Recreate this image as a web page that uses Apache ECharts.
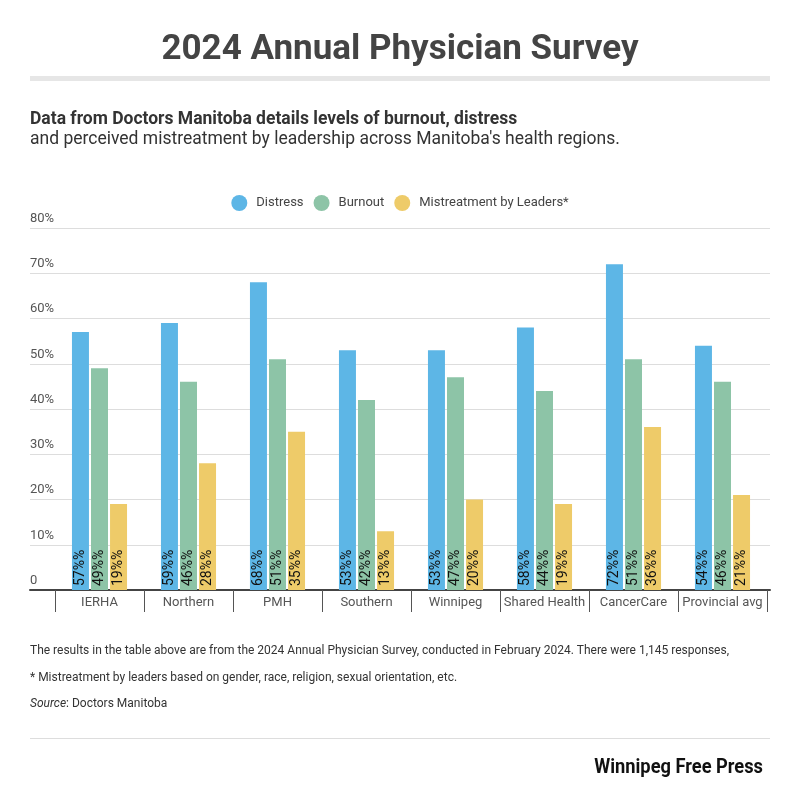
<!DOCTYPE html>
<html>
<head>
<meta charset="utf-8">
<title>2024 Annual Physician Survey</title>
<script src="https://cdn.jsdelivr.net/npm/echarts@6/dist/echarts.min.js"></script>
<style>
  html, body { margin: 0; padding: 0; background: #fff; }
  #chart { width: 800px; height: 801px; }
</style>
</head>
<body>
<div id="chart"></div>
<script>
// regions (x axis)
let regions = ['IERHA', 'Northern', 'PMH', 'Southern', 'Winnipeg', 'Shared Health', 'CancerCare', 'Provincial avg'];
// percent values per series
let distress = [57, 59, 68, 53, 53, 58, 72, 54];
let burnout = [49, 46, 51, 42, 47, 44, 51, 46];
let mistreatment = [19, 28, 35, 13, 20, 19, 36, 21];
let seriesNames = ['Distress', 'Burnout', 'Mistreatment by Leaders*'];
let colors = ['#5db6e6', '#8dc4a7', '#eecb69'];

let font = 'Roboto, "Noto Sans", sans-serif';

let myChart = echarts.init(document.getElementById('chart'));

// label inside the bar, rotated, reading bottom to top
function barLabel() {
  return {
    show: true,
    position: 'insideBottom',
    rotate: 90,
    align: 'left',
    verticalAlign: 'middle',
    distance: 4,
    color: '#111',
    fontFamily: font,
    fontSize: 14,
    formatter: function (p) { return p.value + '%%'; }
  };
}

function makeSeries(name, data, i) {
  return {
    name: name,
    type: 'bar',
    xAxisIndex: 1,
    yAxisIndex: 1,
    data: data,
    barWidth: 17,
    barGap: '12%',
    itemStyle: { color: colors[i] },
    label: barLabel(),
    emphasis: { disabled: true }
  };
}

let option = {
  animation: false,
  backgroundColor: '#fff',
  textStyle: { fontFamily: font },
  color: colors,
  title: [
    {
      text: '2024 Annual Physician Survey',
      left: 'center', top: 28,
      textStyle: { fontSize: 35, fontWeight: 'bold', color: '#444', fontFamily: font }
    },
    {
      text: 'Data from Doctors Manitoba details levels of burnout, distress',
      left: 25, top: 106,
      textStyle: { fontSize: 17.5, fontWeight: 'bold', color: '#333', fontFamily: font }
    },
    {
      text: "and perceived mistreatment by leadership across Manitoba's health regions.",
      left: 25, top: 126,
      textStyle: { fontSize: 17.5, fontWeight: 'normal', color: '#333', fontFamily: font }
    },
    {
      text: 'The results in the table above are from the 2024 Annual Physician Survey, conducted in February 2024. There were 1,145 responses,',
      left: 25, top: 640,
      textStyle: { fontSize: 12, fontWeight: 'normal', color: '#333', fontFamily: font }
    },
    {
      text: '* Mistreatment by leaders based on gender, race, religion, sexual orientation, etc.',
      left: 25, top: 667,
      textStyle: { fontSize: 12, fontWeight: 'normal', color: '#333', fontFamily: font }
    },
    {
      text: '{i|Source}: Doctors Manitoba',
      left: 25, top: 693,
      textStyle: {
        fontSize: 12, fontWeight: 'normal', color: '#333', fontFamily: font,
        rich: { i: { fontStyle: 'italic', fontSize: 12, color: '#333', fontFamily: font } }
      }
    }
  ],
  legend: {
    data: seriesNames,
    top: 190,
    left: 'center',
    icon: 'circle',
    itemWidth: 16,
    itemHeight: 16,
    itemGap: 10,
    textStyle: { fontSize: 13, color: '#444', fontFamily: font, padding: [0, 0, 0, 4] }
  },
  grid: [
    { left: 30, right: 30, top: 228, bottom: 211 },
    { left: 55, right: 33, top: 228, bottom: 211 }
  ],
  xAxis: [
    { // full-width base line
      gridIndex: 0,
      type: 'category',
      data: [''],
      axisLine: { show: true, lineStyle: { color: '#444', width: 2 } },
      axisTick: { show: false },
      axisLabel: { show: false }
    },
    {
      gridIndex: 1,
      type: 'category',
      data: regions,
      axisLine: { show: false },
      axisTick: { show: true, length: 22, interval: 0, lineStyle: { color: '#555', width: 1 } },
      axisLabel: { interval: 0, margin: 6, fontSize: 13, color: '#555', fontFamily: font }
    }
  ],
  yAxis: [
    {
      gridIndex: 0,
      type: 'value',
      min: 0, max: 80, interval: 10,
      axisLine: { show: false },
      axisTick: { show: false },
      splitLine: { lineStyle: { color: '#dddddd', width: 1 } },
      axisLabel: {
        inside: true,
        margin: 0,
        verticalAlign: 'bottom',
        padding: [0, 0, 3, 0],
        fontSize: 13,
        color: '#555',
        fontFamily: font,
        formatter: function (v) { return v === 0 ? '0' : v + '%'; }
      }
    },
    {
      gridIndex: 1,
      type: 'value',
      min: 0, max: 80, interval: 10,
      show: false
    }
  ],
  series: [
    makeSeries(seriesNames[0], distress, 0),
    makeSeries(seriesNames[1], burnout, 1),
    makeSeries(seriesNames[2], mistreatment, 2)
  ],
  graphic: [
    { type: 'rect', left: 30, top: 76, shape: { width: 740, height: 5 }, style: { fill: '#e6e6e6' }, silent: true },
    { type: 'rect', left: 30, top: 738, shape: { width: 740, height: 1 }, style: { fill: '#dddddd' }, silent: true },
    {
      type: 'text', x: 763, y: 768, scaleX: 0.87, silent: true,
      style: {
        text: 'Winnipeg Free Press', align: 'right', verticalAlign: 'middle',
        font: 'bold 21px Roboto, sans-serif', fill: '#111'
      }
    }
  ]
};

myChart.setOption(option);
</script>
</body>
</html>
